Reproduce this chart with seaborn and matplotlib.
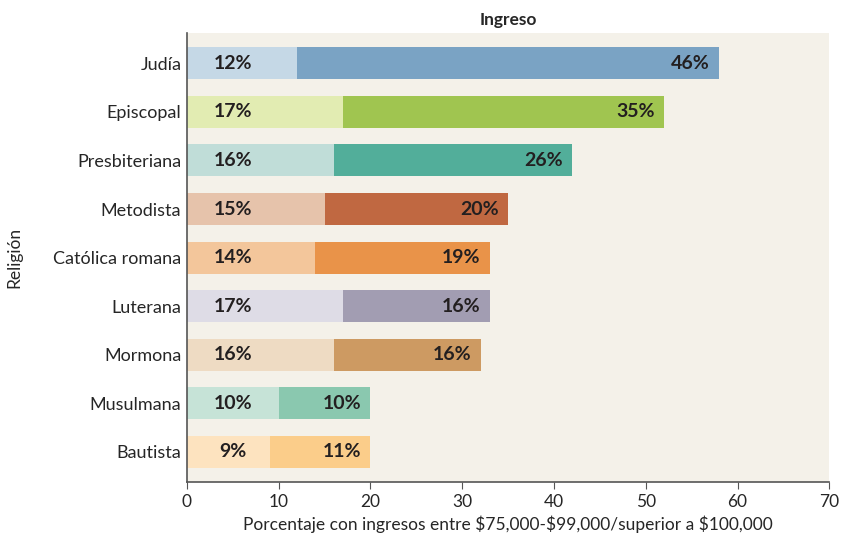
import numpy as np
import pandas as pd
import matplotlib
matplotlib.use("Agg")
import matplotlib.pyplot as plt
import seaborn as sns

# Data
religions = ["Judía", "Episcopal", "Presbiteriana", "Metodista", "Católica romana",
             "Luterana", "Mormona", "Musulmana", "Bautista"]
pct_75_99k = [12, 17, 16, 15, 14, 17, 16, 10, 9]
pct_over_100k = [46, 35, 26, 20, 19, 16, 16, 10, 11]

light_colors = ["#C5D8E6", "#E2ECB2", "#C0DDD8", "#E6C3AB", "#F3C69B",
                "#DEDCE6", "#EEDBC3", "#C6E3D7", "#FDE3BF"]
dark_colors = ["#7AA3C4", "#A0C550", "#52AE9A", "#C06841", "#E99349",
               "#A29DB2", "#CD9A62", "#8AC8AF", "#FBCD8A"]

df = pd.DataFrame({
    "religion": religions,
    "low": pct_75_99k,
    "high": pct_over_100k,
})
df["total"] = df["low"] + df["high"]

sns.set_style("ticks")
plt.rcParams["font.family"] = ["Lato", "DejaVu Sans"]

fig = plt.figure(figsize=(8.42, 5.44), dpi=100)
ax = fig.add_axes([0.222, 0.114, 0.763, 0.825])
ax.set_facecolor("#F4F1E9")

# total bar (dark), then first segment (light) on top
sns.barplot(data=df, y="religion", x="total", hue="religion", palette=dark_colors,
            orient="h", width=0.66, legend=False, ax=ax, saturation=1,
            edgecolor="none", linewidth=0)
sns.barplot(data=df, y="religion", x="low", hue="religion", palette=light_colors,
            orient="h", width=0.66, legend=False, ax=ax, saturation=1,
            edgecolor="none", linewidth=0)

for i, row in df.iterrows():
    ax.text(5, i, f"{row['low']}%", ha="center", va="center",
            fontsize=14, fontweight="bold", color="#231F20")
    ax.text(row["total"] - 1, i, f"{row['high']}%", ha="right", va="center",
            fontsize=14, fontweight="bold", color="#231F20")

ax.set_xlim(0, 70)
ax.set_ylim(len(religions) - 0.38, -0.62)
ax.set_xticks(np.arange(0, 71, 10))
ax.tick_params(axis="x", direction="out", length=5, color="#555555", labelsize=12.5)
ax.tick_params(axis="y", length=0, labelsize=13, pad=4)
for s in ["top", "right"]:
    ax.spines[s].set_visible(False)
for s in ["left", "bottom"]:
    ax.spines[s].set_color("#555555")
    ax.spines[s].set_linewidth(1.2)

ax.set_xlabel("Porcentaje con ingresos entre $75,000-$99,000/superior a $100,000",
              fontsize=12.5, labelpad=4)
ax.set_ylabel("Religión", fontsize=12.5, labelpad=22)
ax.set_title("Ingreso", fontsize=12.5, fontweight="bold", pad=6)

fig.savefig("out.png", dpi=100, facecolor="white")
